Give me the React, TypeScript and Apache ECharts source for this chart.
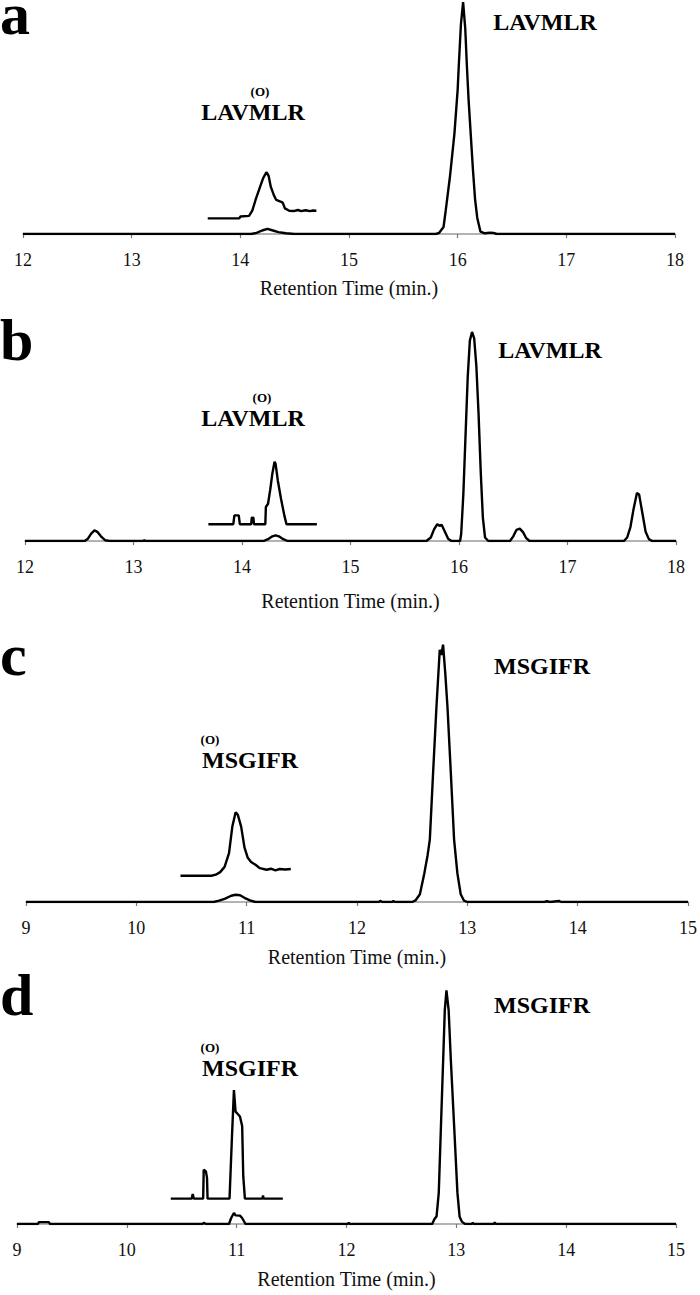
import React, { useEffect, useRef } from "react";
import * as echarts from "echarts";

// Retention-time axes (minutes)
const xRangeAB = [12, 18];
const xRangeCD = [9, 15];

// Panel a — main trace and inset (intensity, arbitrary units)
const traceA: number[][] = [
  [12, 0], [14.1, 0], [14.15, 0.5], [14.2, 1.5], [14.25, 2.2], [14.3, 1.5], [14.35, 0.8], [14.42, 0.3], [14.5, 0],
  [15.8, 0], [15.83, 0.5], [15.87, 3], [15.89, 10], [15.93, 25], [15.97, 43], [16.0, 62], [16.01, 72], [16.03, 90],
  [16.05, 99.5], [16.07, 88], [16.085, 72], [16.1, 58], [16.12, 43], [16.14, 28], [16.16, 15], [16.18, 7],
  [16.21, 1], [16.25, 0.3], [16.3, 0.6], [16.33, 0.5], [16.36, 0], [18, 0],
];
const insetA: number[][] = [
  [13.7, 6.7], [13.99, 6.7], [14.0, 7.5], [14.08, 7.8], [14.11, 10], [14.14, 14.6], [14.18, 20], [14.21, 24],
  [14.24, 26.5], [14.26, 25], [14.28, 20.3], [14.31, 16.5], [14.33, 14.6], [14.37, 13.9], [14.39, 13.5],
  [14.41, 11], [14.45, 10], [14.5, 9.9], [14.53, 10.3], [14.56, 9.8], [14.6, 10.2], [14.64, 9.8], [14.67, 10.1], [14.7, 10],
];

// Panel b
const traceB: number[][] = [
  [12, 0], [12.55, 0], [12.58, 1], [12.61, 3.2], [12.64, 4.6], [12.67, 3.8], [12.7, 2], [12.74, 0.3], [12.78, 0],
  [13.09, 0], [13.1, 0.4], [13.11, 0], [14.2, 0], [14.24, 0.8], [14.28, 2], [14.31, 2.4], [14.34, 2], [14.38, 0.8],
  [14.42, 0], [15.7, 0], [15.74, 1.5], [15.77, 5], [15.8, 7.2], [15.82, 6.5], [15.84, 7], [15.87, 4], [15.9, 1],
  [15.93, 0], [16.01, 0], [16.02, 3], [16.04, 20], [16.06, 45], [16.08, 70], [16.1, 86], [16.12, 89.7],
  [16.14, 87], [16.16, 75], [16.18, 55], [16.2, 30], [16.22, 10], [16.24, 1.5], [16.27, 0], [16.47, 0],
  [16.5, 2], [16.53, 4.8], [16.56, 5.3], [16.59, 3.8], [16.62, 1.2], [16.65, 0], [17.52, 0], [17.55, 1.5],
  [17.58, 6], [17.61, 14], [17.64, 20.6], [17.66, 20], [17.69, 12], [17.72, 4], [17.75, 0.8], [17.78, 0], [18, 0],
];
const insetB: number[][] = [
  [13.69, 7.2], [13.92, 7.2], [13.93, 11], [13.97, 11], [13.98, 7.2], [14.085, 7.2], [14.09, 10], [14.105, 10],
  [14.11, 7.2], [14.215, 7.2], [14.22, 14.6], [14.24, 16], [14.26, 22], [14.28, 29], [14.3, 34], [14.31, 33],
  [14.33, 26], [14.36, 18], [14.39, 11], [14.41, 7.2], [14.69, 7.2],
];

// Panel c
const traceC: number[][] = [
  [9, 0], [10.7, 0], [10.75, 0.5], [10.8, 1.2], [10.86, 2.4], [10.9, 2.8], [10.94, 2.6], [10.98, 1.6], [11.03, 0.6],
  [11.08, 0], [12.2, 0], [12.21, 0.4], [12.23, 0], [12.32, 0], [12.33, 0.4], [12.34, 0], [12.5, 0], [12.53, 0.6],
  [12.57, 3], [12.61, 11], [12.64, 18], [12.66, 24], [12.69, 50], [12.72, 75], [12.75, 97], [12.765, 95],
  [12.78, 99], [12.8, 88], [12.82, 75], [12.85, 50], [12.88, 24], [12.91, 11], [12.94, 3], [12.97, 0.5],
  [13.0, 0], [13.7, 0], [13.72, 0.3], [13.75, 0], [13.83, 0.4], [13.85, 0], [15, 0],
];
const insetC: number[][] = [
  [10.4, 10.1], [10.68, 10.1], [10.72, 10.5], [10.76, 11.5], [10.8, 13.5], [10.84, 18.8], [10.87, 29],
  [10.9, 34.5], [10.92, 33.5], [10.95, 29], [10.98, 21], [11.01, 17], [11.04, 15.4], [11.08, 14.3], [11.12, 13],
  [11.18, 12.4], [11.22, 12.8], [11.26, 12.2], [11.3, 12.7], [11.35, 12.5], [11.4, 12.7],
];

// Panel d
const traceD: number[][] = [
  [9, 0], [9.19, 0], [9.2, 0.8], [9.29, 0.8], [9.3, 0], [10.69, 0], [10.7, 0.5], [10.72, 0], [10.93, 0],
  [10.95, 2.5], [10.975, 4.6], [10.99, 3.6], [11.03, 3.5], [11.05, 2.5], [11.08, 0], [12.01, 0], [12.02, 0.5],
  [12.03, 0], [12.78, 0], [12.8, 2], [12.82, 3.2], [12.84, 13], [12.86, 41], [12.88, 68.6], [12.895, 89.5],
  [12.91, 97.8], [12.93, 89.5], [12.95, 68.6], [12.98, 41], [13.01, 13], [13.03, 3], [13.05, 1], [13.08, 0],
  [13.14, 0], [13.15, 0.5], [13.16, 0], [13.34, 0], [13.35, 0.6], [13.36, 0], [15, 0],
];
const insetD: number[][] = [
  [10.4, 10.6], [10.59, 10.6], [10.6, 12.5], [10.61, 10.6], [10.695, 10.6], [10.7, 22.7], [10.72, 22],
  [10.73, 19.3], [10.735, 10.6], [10.935, 10.6], [10.955, 34], [10.975, 56], [10.99, 47], [11.01, 46],
  [11.03, 45], [11.05, 41], [11.06, 20], [11.075, 10.6], [11.235, 10.6], [11.24, 12], [11.245, 10.6], [11.42, 10.6],
];

const panelLetters = ["a", "b", "c", "d"];
const peptideNames = ["LAVMLR", "LAVMLR", "MSGIFR", "MSGIFR"];
const oxLabel = "(O)";
const axisTitle = "Retention Time (min.)";

const SERIF = "'Liberation Serif', 'DejaVu Serif', serif";

export default function App() {
  const ref = useRef<HTMLDivElement>(null);
  useEffect(() => {
    if (!ref.current) return;
    const chart = echarts.init(ref.current, null, { renderer: "svg" });

    const grids = [
      { left: 23, width: 652, top: 1, height: 233 },
      { left: 25, width: 651, top: 308, height: 233 },
      { left: 26, width: 662, top: 642, height: 260 },
      { left: 17, width: 659, top: 985, height: 239 },
    ];
    const ranges = [xRangeAB, xRangeAB, xRangeCD, xRangeCD];
    const nameGaps = [44, 50, 45, 45];

    const xAxes = grids.map((_, i) => ({
      type: "value" as const,
      gridIndex: i,
      min: ranges[i][0],
      max: ranges[i][1],
      interval: 1,
      name: axisTitle,
      nameLocation: "middle" as const,
      nameGap: nameGaps[i],
      nameTextStyle: { fontFamily: SERIF, fontSize: 20, color: "#111" },
      axisLine: { onZero: false, lineStyle: { color: "#9a9a9a", width: 1.5 } },
      axisTick: { show: true, length: 4, lineStyle: { color: "#777", width: 1.2 } },
      axisLabel: { fontFamily: SERIF, fontSize: 18, color: "#111", margin: 17 },
      splitLine: { show: false },
    }));
    const yAxes = grids.map((_, i) => ({
      type: "value" as const,
      gridIndex: i,
      min: 0,
      max: 100,
      show: false,
    }));

    const traces = [traceA, traceB, traceC, traceD];
    const insets = [insetA, insetB, insetC, insetD];
    const lineSeries = (data: number[][], i: number, name: string) => ({
      type: "line" as const,
      name,
      xAxisIndex: i,
      yAxisIndex: i,
      data,
      showSymbol: false,
      symbol: "none",
      smooth: false,
      lineStyle: { color: "#000", width: 2.4 },
      z: 3,
    });
    const series: any[] = [];
    traces.forEach((d, i) => series.push(lineSeries(d, i, "trace-" + panelLetters[i])));
    insets.forEach((d, i) => series.push(lineSeries(d, i, "inset-" + panelLetters[i])));

    const letterPos = [
      [0, 14], [0, 340], [0, 655], [0, 995],
    ];
    const mainLabelPos = [
      [545, 22], [550, 350], [542, 666], [542, 1005],
    ];
    const oxPos = [
      [260, 91], [262, 397], [210, 739], [210, 1047],
    ];
    const insetLabelPos = [
      [253, 112], [253, 418], [250, 760], [250, 1068],
    ];

    const graphics: any[] = [];
    for (let i = 0; i < 4; i++) {
      graphics.push({
        type: "text",
        x: letterPos[i][0],
        y: letterPos[i][1],
        style: {
          text: panelLetters[i],
          font: `bold 60px ${SERIF}`,
          fill: "#000",
          textAlign: "left",
          textVerticalAlign: "middle",
        },
      });
      graphics.push({
        type: "text",
        x: mainLabelPos[i][0],
        y: mainLabelPos[i][1],
        style: {
          text: peptideNames[i],
          font: `bold 24px ${SERIF}`,
          fill: "#000",
          textAlign: "center",
          textVerticalAlign: "middle",
        },
      });
      graphics.push({
        type: "text",
        x: oxPos[i][0],
        y: oxPos[i][1],
        style: {
          text: oxLabel,
          font: `bold 13px ${SERIF}`,
          fill: "#000",
          textAlign: "center",
          textVerticalAlign: "middle",
        },
      });
      graphics.push({
        type: "text",
        x: insetLabelPos[i][0],
        y: insetLabelPos[i][1],
        style: {
          text: peptideNames[i],
          font: `bold 24px ${SERIF}`,
          fill: "#000",
          textAlign: "center",
          textVerticalAlign: "middle",
        },
      });
    }

    chart.setOption({
      animation: false,
      backgroundColor: "#fff",
      grid: grids,
      xAxis: xAxes,
      yAxis: yAxes,
      series,
      graphic: graphics,
    });
    return () => chart.dispose();
  }, []);
  return (
    <div
      ref={ref}
      style={{ position: "absolute", left: 0, top: 0, width: 700, height: 1295 }}
    />
  );
}
